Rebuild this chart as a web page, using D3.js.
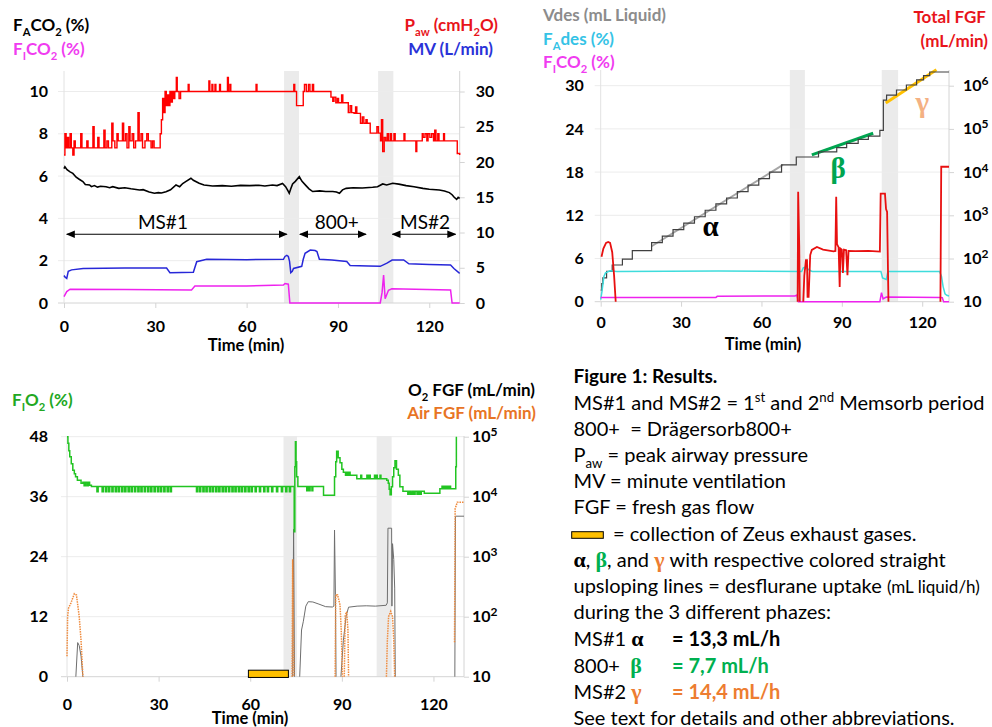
<!DOCTYPE html>
<html><head><meta charset="utf-8">
<script src="https://cdn.jsdelivr.net/npm/d3@7"></script>
<style>
body{margin:0;background:#fff;}
svg{display:block;}
text{white-space:pre;}
</style>
</head><body>
<svg id="c" width="992" height="727"></svg>
<script>
// ---------------- DATA ----------------
const xTicks = [0, 30, 60, 90, 120];
const p1LeftTicks = [0, 2, 4, 6, 8, 10];
const p1RightTicks = [0, 5, 10, 15, 20, 25, 30];
const p2LeftTicks = [0, 6, 12, 18, 24, 30];
const p2RightTicks = [10, 1e2, 1e3, 1e4, 1e5, 1e6];
const p3LeftTicks = [0, 12, 24, 36, 48];
const p3RightTicks = [10, 1e2, 1e3, 1e4, 1e5];

const p1Bands = [[72.3, 77.2], [103.2, 108.2]];
const p2Bands = [[70.6, 76.2], [104.9, 111.0]];
const p3Bands = [[70.9, 75.3], [101.4, 106.3]];

const phaseArrows = [
  {label: "MS#1", t0: 0.9, t1: 73.2, labelT: 32.5},
  {label: "800+", t0: 77.5, t1: 99.2, labelT: 89.6},
  {label: "MS#2", t0: 107.9, t1: 128.6, labelT: 118.6}
];
const phaseArrowLevel = 3.25;

// Panel 1: peak airway pressure (cmH2O)
const paw = [[0,21],[0.3,24],[0.7,22],[1.1,23.5],[1.5,22],[2,24],[2.4,22],[2.9,21],[3.3,23],[3.7,22],
[5.2,22],[5.5,24],[5.9,22],[7.2,22],[7.5,23],[7.9,22],[9.2,22],[9.5,25],[9.9,22],[10.8,22],[11.1,23.5],[11.5,22],
[12.8,22],[13.1,24.5],[13.5,22],[14.1,23],[14.6,22],[15.4,22],[15.7,25.5],[16.1,23],[16.7,22],
[17.4,24],[17.8,23],[18.9,23],[19.2,25.5],[19.6,23],[20.2,24],[20.7,22],[21.3,25],[21.7,23],[22.4,24],[22.9,22],[23.5,23],[24.3,27],[24.7,23],[25.3,24],[25.8,22],[26.6,23],[27.2,24],[27.7,23],[28.6,22],[29.1,23],[29.6,22],
[31.2,22],[31.6,24],[32,26],[32.4,29],[32.8,27],[33.2,30],[33.6,28],[34,29.5],[34.4,28],[34.8,30],[35.2,28.5],[35.6,30],[36,29],[36.4,30],[36.9,32],[37.2,30],[37.8,29],[38.3,30],
[40.5,30],[40.8,31],[41.1,30],[47.3,30],[47.6,31.5],[47.9,30],[48.6,31],[48.9,30],[49.6,31],[49.9,30],[51.1,31],[51.4,30],[53.4,30],[53.7,32],[54,30],[54.5,31],[54.8,30],
[62.8,30],[63.1,31],[63.4,30],[75.2,30],[75.5,31],[75.8,30],[76.4,28],[78.6,30],[79,31],[79.6,30],[80.3,31],[80.8,30],[81.6,31],[82,30],
[87.4,30],[87.7,29.2],[88.3,28.6],[88.7,29.2],[89.3,28.4],[89.8,29],[90.2,28.4],[91.2,29.5],[91.6,28.4],[93.4,27],[94,28],[94.5,27],[95.3,26.9],[95.8,27.8],[96.2,26.9],
[97.4,25.5],[98,26.4],[98.5,25.5],[99.2,26],[99.6,25.5],[100.6,24.1],[102.4,24.1],[102.8,25],[103.3,24.1],[104,23],[104.3,26],[104.7,21.5],[105.2,23.5],[105.7,23],[106.2,24],[106.6,23],[107.2,24],[107.6,23],[108.4,24],[108.8,23],[111.4,23],[111.7,24],[112,23],[115.3,23],[115.6,21.5],[115.9,23],[117.4,23],[117.7,24],[118,23.5],[118.6,24],[119.2,23],[119.6,24],[120.2,23.5],[120.8,24],[121.4,23],[121.8,24.5],[122.2,23],[122.8,24],[123.2,23],[124.4,23],[124.7,24],[125,23],[128.5,23],[129.2,21.2],[130,21]];

// Panel 1: end-tidal CO2 FACO2 (%)
const faco2 = [[0,6.35],[0.3,6.44],[1,6.3],[2,6.2],[2.9,6.13],[4,5.95],[5,5.85],[6.2,5.74],[7,5.6],[8.4,5.58],[9,5.5],[10,5.55],[11,5.48],[12,5.52],[13.8,5.5],[15,5.45],[16,5.5],[18,5.42],[20,5.45],[22,5.4],[24.8,5.34],[26,5.36],[28,5.25],[29.7,5.19],[31,5.22],[32,5.2],[33.5,5.26],[35,5.35],[36.8,5.58],[38,5.5],[39,5.65],[40.1,5.75],[41.7,5.9],[42.5,5.8],[44.4,5.66],[46,5.58],[48.8,5.53],[52,5.55],[55,5.52],[58,5.56],[61,5.55],[64,5.57],[66,5.53],[68.5,5.58],[70,5.55],[71.8,5.65],[72.8,5.5],[73.6,5.3],[74,5.19],[74.5,5.4],[75.1,5.63],[76,5.75],[77.3,5.97],[78.2,5.75],[79.5,5.55],[80.5,5.4],[81.7,5.27],[84,5.3],[86,5.27],[88.3,5.27],[89.5,5.25],[90.5,5.19],[91.5,5.35],[92.7,5.42],[95,5.45],[98,5.44],[101.4,5.47],[103,5.5],[104.7,5.63],[106,5.58],[108,5.66],[110,5.62],[112.4,5.55],[115,5.5],[117.9,5.42],[120,5.38],[123.3,5.34],[125,5.3],[126.6,5.22],[127.5,5.12],[128.2,5.0],[129,4.9],[129.5,5.0],[130,4.95]];

// Panel 1: minute ventilation (L/min)
const mv = [[0,3.9],[0.3,3.7],[0.9,3.5],[1.4,4.5],[2.5,4.7],[6.3,4.9],[20,4.95],[33.7,4.95],[34.8,4.3],[42.5,4.35],[43.6,5.86],[46.9,6.2],[60,6.15],[72.1,6.2],[72.6,6.6],[73.2,6.75],[73.7,6.6],[74.1,5.9],[74.5,4.3],[75,4.5],[75.4,4.9],[78.1,5.2],[78.6,6.2],[79.2,7.05],[80.9,7.5],[82.5,7.45],[83.1,7.3],[83.9,6.2],[88,6.1],[92.9,5.9],[94,5.33],[100,5.25],[103.9,5.2],[106.1,5.65],[107.8,6.1],[111.6,6.1],[113.3,5.55],[120,5.45],[127,5.4],[128.1,4.9],[129.7,4.3],[130,4.2]];

// Panel 1: inspired CO2 FICO2 (%)
const fico2Top = [[0,0.3],[0.9,0.54],[2,0.65],[20,0.64],[41.9,0.62],[43,0.8],[60,0.8],[72.1,0.85],[72.6,0.92],[73.7,0.89],[74.2,0],[103.9,0],[104.5,0.5],[105,1.32],[105.5,0.2],[106.6,0.6],[107.7,0.67],[127,0.62],[127.5,0],[130,0]];

// Panel 2: cumulative desflurane liquid (mL), stepwise
const vdes = [[0,1.6],[0.4,2.5],[0.8,3.3],[2.2,4.2],[4.3,5.1],[8.1,5.9],[11.8,7.1],[19,8.2],[23,9.1],[27,10.0],[31,10.9],[35,11.8],[39,12.7],[43,13.6],[47,14.4],[51,15.3],[55,16.2],[59,17.1],[63,18.0],[67.5,19.0],[73,20.1],[81.3,20.8],[88.1,21.4],[91.8,22.0],[96.1,22.55],[99.9,23.0],[104.2,23.8],[105.5,28.0],[106.7,28.7],[110.4,29.4],[114.1,30.1],[117.9,30.8],[120.5,31.4],[122.8,31.9],[130,31.9]];
// Uptake fit lines
const alphaFit = [[19, 7.7], [68, 19.0]];
const betaFit = [[78.8, 20.4], [101.7, 23.4]];
const gammaFit = [[106.4, 27.6], [125.3, 32.2]];
const greekLabels = [
  {s: "\u03b1", t: 41, v: 10.4, color: "#000000"},
  {s: "\u03b2", t: 88.6, v: 18.4, color: "#00a550"},
  {s: "\u03b3", t: 120, v: 27.6, color: "#f4b183"}
];

// Panel 2: end-tidal desflurane FAdes (%)
const fades = [[0,0.3],[0.5,1.5],[1.2,3.5],[1.8,4.0],[3.5,4.3],[6,4.2],[44,4.25],[75,4.2],[75.6,4.7],[76.5,4.8],[77.5,4.5],[78.3,4.3],[79,4.2],[104.6,4.2],[105.2,3.3],[106.6,3.1],[107.2,4.2],[126.5,4.2],[127.2,3.5],[127.8,2.1],[128.5,1.1],[129.2,0.9],[130,0.8]];
// Panel 2: FICO2 (%)
const fico2Mid = [[0,0.6],[43,0.6],[43.5,0.75],[72.5,0.8],[73.2,0.93],[73.8,0],[104.2,0],[104.8,1.25],[105.4,0.4],[106.6,0.65],[126.8,0.6],[127.5,0.55],[128,0],[130,0]];
// Panel 2: total fresh gas flow (mL/min, log)
const totalFGF = [[0.3,110],[1,170],[2,230],[2.8,242],[3.5,230],[4.3,140],[5,40],[5.6,10],[5.7,null],
[73.5,10],[73.7,3500],[74.1,200],[74.3,10],[74.4,null],
[75.6,10],[76,40],[76.6,92],[77,92],[77.2,13],[77.6,13],[78.2,120],[78.8,158],[80.7,185],[83,160],[86.9,147],[87.6,150],[87.9,2700],[88.2,215],[88.8,180],[89.2,22],[89.5,170],[90,160],[90.4,46],[90.8,160],[91.6,155],[92.1,41],[92.5,150],[95,148],[100,150],[104.2,145],[104.5,3160],[106.1,3160],[106.5,1400],[106.9,1200],[107.4,10],[107.5,null],
[126.8,10],[127.1,13300],[130,13300]];

// Panel 3: inspired O2 FIO2 (%)
const fio2 = [[0,48],[0.3,46.7],[0.6,45.2],[0.9,44],[1.4,42.6],[1.9,41.3],[2.4,40.6],[2.8,40],[3.4,39.3],[4.6,38.7],[5.2,38.9],[5.6,38.2],[6,38.9],[6.5,38.2],[7,38.9],[7.4,38.3],[8,38.05],
[9.8,37],[10.2,38.05],[11.5,37],[11.9,38.05],[12.6,37],[13,38.05],[13.6,37],[14,38.05],[14.7,37],[15.1,38.05],[15.8,37],[16.2,38.05],[16.8,37],[17.2,38.05],[17.9,37],[18.3,38.05],[18.9,37],[19.3,38.05],[20,37],[20.4,38.05],[21,37],[21.4,38.05],[22.1,37],[22.5,38.05],[23.2,37],[23.6,38.05],[24.2,37],[24.6,38.05],[25.3,37],[25.7,38.05],[26.4,37],[26.8,38.05],[27.4,37],[27.8,38.05],[28.5,37],[28.9,38.05],[29.6,37],[30,38.05],[30.6,37],[31,38.05],[31.7,37],[32.1,38.05],[32.8,37],[33.2,38.05],[33.8,37],[34.2,38.05],
[42.4,37],[42.8,38.05],[43.4,37],[43.8,38.05],[44.5,37],[44.9,38.05],[45.5,37],[45.9,38.05],[46.6,37],[47,38.05],[47.6,37],[48,38.05],[48.7,37],[49.1,38.05],[49.7,37],[50.1,38.05],[50.8,37],[51.2,38.05],[51.8,37],[52.2,38.05],[52.9,37],[53.3,38.05],[54,37],[54.4,38.05],[55,37],[55.4,38.05],[56.1,37],[56.5,38.05],[57.1,37],[57.5,38.05],[58.2,37],[58.6,38.05],[59.3,37],[59.7,38.05],[60.3,37],[60.7,38.05],[61.6,37],[62,38.05],[63,37],[63.4,38.05],[64.4,37],[64.8,38.05],[65.6,37],[66,38.05],[67,37],[67.4,38.05],[68.6,37],[69,38.05],[70.2,37],[70.6,38.05],[71.6,37],[72,38.05],[72.8,37],[73.2,38.05],
[74.1,38.05],[74.4,29],[74.6,42],[74.8,47],[75,43],[75.2,40],[75.6,38.05],[78.3,38.05],[78.5,37.2],[78.9,38.05],[79.2,37.2],[79.6,38.05],[80.2,37.2],[80.5,38.05],[83.9,38.05],[84,36.3],[87.3,36.3],[87.6,40],[88,43],[88.3,45.1],[88.8,43.8],[89.4,42.8],[90,41.5],[90.5,40.9],[91,40.9],[91.2,40.3],[91.6,40.9],[92,40.3],[92.3,40.9],[92.7,40.3],[93.5,40.3],[94.9,39.6],[96,39.6],[96.2,40.3],[96.5,39.6],[98,39.6],[98.2,40.3],[98.6,39.6],[99,40.3],[99.3,39.6],[100.5,39.6],[100.7,40.3],[101,39.6],[101.3,40.3],[101.6,39.6],[102.5,40.3],[102.8,39.6],[104.7,39.3],[105.2,38.7],[105.5,37.5],[105.8,36.4],[106.2,38],[106.6,40],[107,41.8],[107.4,43.2],[107.9,41.5],[108.5,40.3],[109,38],[109.5,38],[110,37.1],[111.2,37.1],[111.6,36.5],[112,37.1],[112.5,36.5],[113,37.1],[113.5,36.5],[114,37.1],[114.6,36.5],[115,37.1],[115.5,36.5],[116,37.1],[117,36.7],[122,36.7],[122.1,37.6],[122.5,37.6],[122.8,38.1],[123.2,37.6],[123.6,38.1],[124,37.6],[124.4,38.1],[124.8,37.6],[125.2,38.1],[125.6,37.6],[127.2,37.6],[127.3,42],[127.5,48]];

// Panel 3: O2 fresh gas flow (mL/min, log)
const o2FGF = [[2.9,10],[3.5,37],[4,32.9],[4.6,22],[5.2,10],[5.3,null],
[73.9,10],[74.2,2870],[74.5,10],[74.6,null],
[76.2,10],[76.8,60],[77.4,84],[78.2,150],[79,178],[80.5,176],[82.5,162],[84.7,147],[86.9,145],[87.4,150],[87.6,2780],[87.9,233],[88.1,10],[88.2,null],
[89.7,10],[90.5,40],[91.4,102],[92.2,144],[95,150],[98,152],[101,150],[104.5,155],[104.9,170],[105.1,2985],[106.3,2985],[106.4,150],[106.6,1647],[107,900],[107.3,300],[107.5,10],[107.6,null],
[127,10],[127.2,4732],[130,4732]];

// Panel 3: Air fresh gas flow (mL/min, log)
const airFGF = [[0,22],[0.2,100],[0.5,139],[1.3,170],[2.4,242],[3.1,230],[4,100],[4.6,40],[5.2,10],[5.3,null],
[73.7,10],[73.9,908],[74.3,10],[74.4,null],
[87.8,10],[88,233],[88.6,230],[89.4,158],[89.8,60],[90.2,10],[90.3,null],
[90.8,10],[91.1,106],[91.6,121],[92,60],[92.2,10],[92.3,null],
[104.6,10],[104.9,40],[105.3,100],[106,123],[106.6,100],[107,40],[107.3,10],[107.4,null],
[126.9,37.6],[127.1,6310],[127.8,8090],[130,8090]];

// Zeus exhaust gas collection period (min)
const collection = [59.4, 72.5];

// ---------------- DRAWING ----------------
const FONT = "Lato, 'Open Sans', sans-serif";
const SERIF = "'Liberation Serif', 'DejaVu Serif', serif";
const svg = d3.select("#c");
svg.append("rect").attr("width", 992).attr("height", 727).attr("fill", "#fff");

const defs = svg.append("defs");
defs.append("marker").attr("id", "arr").attr("viewBox", "0 0 10 10")
  .attr("refX", 9).attr("refY", 5).attr("markerWidth", 9).attr("markerHeight", 9)
  .attr("markerUnits", "userSpaceOnUse").attr("orient", "auto-start-reverse")
  .append("path").attr("d", "M0,0.8 L10,5 L0,9.2 Z").attr("fill", "#000");

function rich(parent, x, y, parts, opt) {
  const t = parent.append("text").attr("x", x).attr("y", y)
    .attr("font-size", opt.size).attr("font-weight", opt.weight || "normal")
    .attr("fill", opt.fill || "#000").attr("text-anchor", opt.anchor || "start")
    .attr("font-family", opt.family || FONT);
  let cur = 0;
  const ratio = opt.subRatio || 0.66;
  parts.forEach(p => {
    if (typeof p === "string") p = {s: p};
    const shift = p.sub ? opt.size * 0.28 : p.sup ? -opt.size * 0.38 : 0;
    const ts = t.append("tspan").text(p.s);
    if (shift - cur !== 0) ts.attr("dy", shift - cur);
    cur = shift;
    if (p.sub || p.sup) ts.attr("font-size", opt.size * ratio);
    if (p.fill) ts.attr("fill", p.fill);
    if (p.weight) ts.attr("font-weight", p.weight);
    if (p.family) ts.attr("font-family", p.family);
    if (p.size) ts.attr("font-size", p.size);
    if (p.x != null) ts.attr("x", p.x);
  });
  return t;
}

function frame(cfg) {
  const g = svg.append("g");
  const {x, yL, yR, top} = cfg;
  const x0 = x(0), x1 = x(130), yb = yL(0);
  cfg.bands.forEach(b => {
    g.append("rect").attr("x", x(b[0])).attr("width", x(b[1]) - x(b[0]))
      .attr("y", top).attr("height", yb - top).attr("fill", "#ebebeb");
  });
  cfg.leftTicks.forEach(v => {
    g.append("line").attr("x1", x0 - 6).attr("x2", x1).attr("y1", yL(v)).attr("y2", yL(v))
      .attr("stroke", v === 0 ? "#d4d4d4" : "#ececec").attr("stroke-width", 1);
  });
  g.append("line").attr("x1", x0).attr("x2", x0).attr("y1", top).attr("y2", yb).attr("stroke", "#e2e2e2");
  const la = d3.axisLeft(yL).tickValues(cfg.leftTicks).tickSize(0).tickPadding(cfg.leftPad);
  const lag = g.append("g").attr("transform", `translate(${x0},0)`).call(la);
  lag.select(".domain").remove();
  lag.selectAll("text").attr("font-family", FONT).attr("font-size", 16).attr("font-weight", "bold").attr("fill", "#000");
  const ra = d3.axisRight(yR).tickValues(cfg.rightTicks).tickSize(5).tickFormat("");
  const rag = g.append("g").attr("transform", `translate(${x1},0)`).call(ra);
  rag.select(".domain").attr("stroke", "#d4d4d4").attr("d", `M0,${top}V${yb}`);
  rag.selectAll(".tick line").attr("stroke", "#d4d4d4");
  cfg.rightTicks.forEach(v => {
    const yy = yR(v) + 5.5;
    if (cfg.log) {
      const e = Math.round(Math.log10(v));
      const parts = e === 1 ? ["10"] : ["10", {s: String(e), sup: true}];
      const t = rich(g, x1 + cfg.rightPad + 5, yy, parts, {size: 16, weight: "bold"});
      t.selectAll("tspan").filter((d, i) => i === 1).attr("font-size", 12);
    } else {
      g.append("text").attr("x", x1 + cfg.rightPad + 5).attr("y", yy).text(v)
        .attr("font-family", FONT).attr("font-size", 16).attr("font-weight", "bold");
    }
  });
  const ba = d3.axisBottom(x).tickValues(xTicks).tickSize(5).tickPadding(12);
  const bag = g.append("g").attr("transform", `translate(0,${yb})`).call(ba);
  bag.select(".domain").remove();
  bag.selectAll(".tick line").attr("stroke", "#d4d4d4");
  bag.selectAll("text").attr("font-family", FONT).attr("font-size", 16).attr("font-weight", "bold")
    .attr("fill", "#000").attr("dy", null).attr("y", cfg.xLabelDy);
  g.append("text").attr("x", cfg.timeX).attr("y", cfg.timeY).attr("text-anchor", "middle")
    .attr("font-family", FONT).attr("font-size", 16.5).attr("font-weight", "bold").text("Time (min)");
  return g;
}

function path(g, data, x, y, style, curve) {
  const line = d3.line().defined(d => d[1] != null).x(d => x(d[0])).y(d => y(d[1])).curve(curve || d3.curveLinear);
  const p = g.append("path").datum(data).attr("d", line).attr("fill", "none");
  Object.entries(style).forEach(([k, v]) => p.attr(k, v));
  return p;
}

const TS = 17; // title size

// ===== Panel 1 =====
{
  const x = d3.scaleLinear().domain([0, 130]).range([64, 459.7]);
  const yL = d3.scaleLinear().domain([0, 10]).range([303, 91.5]);
  const yR = d3.scaleLinear().domain([0, 30]).range([303, 91.5]);
  const g = frame({x, yL, yR, top: 71, bands: p1Bands, leftTicks: p1LeftTicks, rightTicks: p1RightTicks,
    leftPad: 16, rightPad: 11, log: false, xLabelDy: 28.7, timeX: 246, timeY: 351});
  path(g, paw, x, yR, {stroke: "#ff0000", "stroke-width": 1.4}, d3.curveStepAfter);
  path(g, faco2, x, yL, {stroke: "#000", "stroke-width": 1.6});
  path(g, mv, x, yR, {stroke: "#2727d8", "stroke-width": 1.5});
  path(g, fico2Top, x, yL, {stroke: "#ee22ee", "stroke-width": 1.5});
  const ay = yL(phaseArrowLevel);
  phaseArrows.forEach(a => {
    g.append("line").attr("x1", x(a.t0)).attr("x2", x(a.t1)).attr("y1", ay).attr("y2", ay)
      .attr("stroke", "#000").attr("stroke-width", 1.2)
      .attr("marker-start", "url(#arr)").attr("marker-end", "url(#arr)");
    g.append("text").attr("x", x(a.labelT)).attr("y", ay - 5).attr("text-anchor", "middle")
      .attr("font-family", FONT).attr("font-size", 19).text(a.label);
  });
  rich(g, 13, 31, ["F", {s: "A", sub: true}, "CO", {s: "2", sub: true}, " (%)"], {size: TS, weight: "bold", fill: "#000"});
  rich(g, 13, 55, ["F", {s: "I", sub: true}, "CO", {s: "2", sub: true}, " (%)"], {size: TS, weight: "bold", fill: "#f03cf0"});
  rich(g, 498, 31, ["P", {s: "aw", sub: true}, " (cmH", {s: "2", sub: true}, "O)"], {size: TS, weight: "bold", fill: "#e8141b", anchor: "end"});
  rich(g, 493, 55, ["MV (L/min)"], {size: TS, weight: "bold", fill: "#2a33d8", anchor: "end"});
}

// ===== Panel 2 =====
{
  const x = d3.scaleLinear().domain([0, 130]).range([600.7, 949]);
  const yL = d3.scaleLinear().domain([0, 30]).range([301.7, 85.7]);
  const yR = d3.scaleLog().domain([10, 1e6]).range([301.7, 85.7]);
  const g = frame({x, yL, yR, top: 70, bands: p2Bands, leftTicks: p2LeftTicks, rightTicks: p2RightTicks,
    leftPad: 17, rightPad: 9, log: true, xLabelDy: 26.6, timeX: 763, timeY: 350});
  path(g, alphaFit, x, yL, {stroke: "#a6a6a6", "stroke-width": 2});
  path(g, betaFit, x, yL, {stroke: "#00a550", "stroke-width": 3});
  path(g, gammaFit, x, yL, {stroke: "#ffc000", "stroke-width": 3});
  path(g, vdes, x, yL, {stroke: "#404040", "stroke-width": 1.2}, d3.curveStepAfter);
  path(g, fades, x, yL, {stroke: "#3fdcdc", "stroke-width": 1.5});
  path(g, fico2Mid, x, yL, {stroke: "#ee22ee", "stroke-width": 1.5});
  path(g, totalFGF, x, yR, {stroke: "#e81010", "stroke-width": 1.8});
  greekLabels.forEach(l => {
    g.append("text").attr("x", x(l.t)).attr("y", yL(l.v) + 9).attr("text-anchor", "middle")
      .attr("font-family", SERIF).attr("font-weight", "bold").attr("font-size", 29)
      .attr("fill", l.color).text(l.s);
  });
  rich(g, 543, 21, ["Vdes (mL Liquid)"], {size: TS, weight: "bold", fill: "#8c8c8c"});
  rich(g, 543, 45, ["F", {s: "A", sub: true}, "des (%)"], {size: TS, weight: "bold", fill: "#35c3e6"});
  rich(g, 543, 68, ["F", {s: "I", sub: true}, "CO", {s: "2", sub: true}, " (%)"], {size: TS, weight: "bold", fill: "#f03cf0"});
  rich(g, 986, 23, ["Total FGF"], {size: TS, weight: "bold", fill: "#e8141b", anchor: "end"});
  rich(g, 988, 47, ["(mL/min)"], {size: TS, weight: "bold", fill: "#e8141b", anchor: "end"});
}

// ===== Panel 3 =====
{
  const x = d3.scaleLinear().domain([0, 130]).range([67, 464]);
  const yL = d3.scaleLinear().domain([0, 48]).range([676.7, 436.7]);
  const yR = d3.scaleLog().domain([10, 1e5]).range([676.7, 436.7]);
  const g = frame({x, yL, yR, top: 436, bands: p3Bands, leftTicks: p3LeftTicks, rightTicks: p3RightTicks,
    leftPad: 19, rightPad: 3, log: true, xLabelDy: 33, timeX: 250, timeY: 724});
  path(g, o2FGF, x, yR, {stroke: "#6e6e6e", "stroke-width": 1});
  path(g, airFGF, x, yR, {stroke: "#ef8a3c", "stroke-width": 1.5, "stroke-dasharray": "1.5,1"});
  path(g, fio2, x, yL, {stroke: "#22c422", "stroke-width": 1.5}, d3.curveStepAfter);
  g.append("rect").attr("x", x(collection[0])).attr("width", x(collection[1]) - x(collection[0]))
    .attr("y", yL(1.3)).attr("height", yL(-0.15) - yL(1.3))
    .attr("fill", "#ffc000").attr("stroke", "#000").attr("stroke-width", 1);
  rich(g, 12, 406, ["F", {s: "I", sub: true}, "O", {s: "2", sub: true}, " (%)"], {size: TS, weight: "bold", fill: "#22a822"});
  rich(g, 535, 396, ["O", {s: "2", sub: true}, " FGF (mL/min)"], {size: TS, weight: "bold", fill: "#000", anchor: "end"});
  rich(g, 536, 419, ["Air FGF (mL/min)"], {size: TS, weight: "bold", fill: "#e87425", anchor: "end"});
}

// ===== Caption =====
{
  const g = svg.append("g");
  const X = 573.5, S = 20;
  const GREEN = "#00b050", ORANGE = "#ed7d31";
  const o = {size: S, fill: "#000"};
  const GK = 22;
  rich(g, X, 383, ["Figure 1: Results."], {size: 19, weight: "bold"});
  rich(g, X, 410, ["MS#1 and MS#2 = 1", {s: "st", sup: true}, " and 2", {s: "nd", sup: true}, " Memsorb period"], o);
  rich(g, X, 436, ["800+  = Drägersorb800+"], o);
  rich(g, X, 462, ["P", {s: "aw", sub: true}, " = peak airway pressure"], o);
  rich(g, X, 488, ["MV = minute ventilation"], o);
  rich(g, X, 514, ["FGF = fresh gas flow"], o);
  g.append("rect").attr("x", 571.7).attr("y", 531.7).attr("width", 31.6).attr("height", 6.6)
    .attr("fill", "#ffc000").attr("stroke", "#000").attr("stroke-width", 1);
  rich(g, 613, 541, ["= collection of Zeus exhaust gases."], o);
  rich(g, X, 567, [{s: "\u03b1", family: SERIF, weight: "bold", size: GK}, ", ", {s: "\u03b2", family: SERIF, weight: "bold", fill: GREEN, size: GK}, ", and ", {s: "\u03b3", family: SERIF, weight: "bold", fill: ORANGE, size: GK}, " with respective colored straight"], o);
  rich(g, X, 593, ["upsloping lines = desflurane uptake ", {s: "(mL liquid/h)", size: 17}], o);
  rich(g, X, 619, ["during the 3 different phazes:"], o);
  rich(g, X, 646, ["MS#1 ", {s: "\u03b1", family: SERIF, weight: "bold", size: GK}, {s: "= 13,3 mL/h", weight: "bold", x: 672}], o);
  rich(g, X, 673, ["800+  ", {s: "\u03b2", family: SERIF, weight: "bold", fill: GREEN, size: GK}, {s: "= 7,7 mL/h", weight: "bold", fill: GREEN, x: 672}], o);
  rich(g, X, 699, ["MS#2 ", {s: "\u03b3", family: SERIF, weight: "bold", fill: ORANGE, size: GK}, {s: "= 14,4 mL/h", weight: "bold", fill: ORANGE, x: 672}], o);
  rich(g, X, 725, ["See text for details and other abbreviations."], o);
}
</script>
</body></html>
